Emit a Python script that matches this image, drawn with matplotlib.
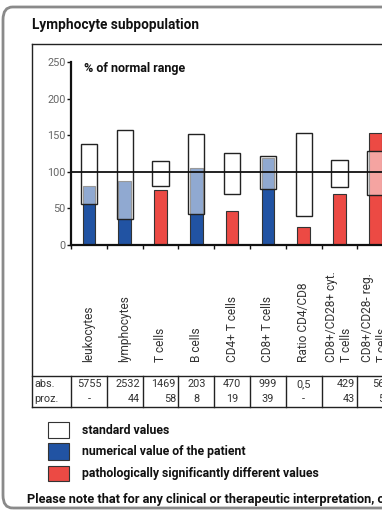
import matplotlib
matplotlib.use("Agg")
import matplotlib.pyplot as plt
from matplotlib.patches import Rectangle, FancyBboxPatch
from matplotlib.lines import Line2D

plt.rcParams['font.family'] = ['Roboto', 'DejaVu Sans']

# ---- data ----
categories = ['leukocytes', 'lymphocytes', 'T cells', 'B cells', 'CD4+ T cells',
              'CD8+ T cells', 'Ratio CD4/CD8', 'CD8+/CD28+ cyt.\nT cells',
              'CD8+/CD28- reg.\nT cells']
std_low = [56, 36, 80, 42, 70, 76, 40, 79, 68]
std_high = [138, 157, 115, 151, 125, 121, 153, 116, 128]
patient = [80, 88, 75, 105, 47, 119, 25, 70, 153]
pathological = [False, False, True, False, True, False, True, True, True]
abs_values = ['5755', '2532', '1469', '203', '470', '999', '0,5', '429', '569']
proz_values = ['-', '44', '58', '8', '19', '39', '-', '43', '57']
yticks = [0, 50, 100, 150, 200, 250]
legend_labels = ['standard values', 'numerical value of the patient',
                 'pathologically significantly different values']

BLUE = '#2153a3'
RED = '#ec4a44'
W, H = 382, 511

fig = plt.figure(figsize=(W / 100, H / 100), dpi=100)


def fx(x):
    return x / W


def fy(y):
    return 1 - y / H


# outer rounded border
fig.add_artist(FancyBboxPatch((fx(3), fy(508)), fx(420), fy(7) - fy(508),
                              boxstyle="round,pad=0,rounding_size=0.025",
                              transform=fig.transFigure, facecolor='none',
                              edgecolor='#8a8a8a', linewidth=2, clip_on=False))

fig.text(fx(32), fy(25), 'Lymphocyte subpopulation', fontsize=9.8, fontweight='bold',
         ha='left', va='center', color='#111')

# inner box lines
fig.add_artist(Line2D([fx(32), fx(32)], [fy(44), fy(407)], color='#222', lw=1))
fig.add_artist(Line2D([fx(32), fx(400)], [fy(44), fy(44)], color='#222', lw=1))

# main axes
col = 35.8
n = len(categories)
ax = fig.add_axes([fx(71), fy(245), (n * col) / W, (245 - 62) / H])
ax.set_xlim(0, n)
ax.set_ylim(0, 250)
for s in ['top', 'right']:
    ax.spines[s].set_visible(False)
for s in ['left', 'bottom']:
    ax.spines[s].set_linewidth(1.6)
    ax.spines[s].set_color('#111')
ax.set_yticks(yticks)
ax.set_yticklabels([str(t) for t in yticks], fontsize=7.8, color='#666')
ax.set_xticks(range(0, n + 1))
ax.set_xticklabels([])
ax.tick_params(axis='both', direction='out', length=3, width=1, color='#111', pad=1)
ax.patch.set_alpha(0)

for i in range(n):
    c = i + 0.5
    color = RED if pathological[i] else BLUE
    ax.bar(c, patient[i], width=0.35, color=color, edgecolor='#333', linewidth=0.8, zorder=2)
    ax.add_patch(Rectangle((c - 0.225, std_low[i]), 0.45, std_high[i] - std_low[i],
                           facecolor=(1, 1, 1, 0.5), edgecolor='#222', linewidth=1, zorder=3))
    ax.text(c, -0.64, categories[i], rotation=90, ha='center', va='bottom',
            multialignment='left', fontsize=8.6, color='#333',
            transform=ax.get_xaxis_transform(), clip_on=False)

ax.axhline(100, color='#111', lw=1.3, zorder=4)
ax.text((84 - 71) / col, 241, '% of normal range', fontsize=9, fontweight='bold',
        ha='left', va='center', color='#111')

# table
tax = fig.add_axes([fx(71), fy(407), (n * col) / W, 31 / H])
tax.set_xlim(0, n)
tax.set_ylim(0, 2)
tax.axis('off')
left_ext = -(71 - 32) / col
tax.plot([left_ext, n + 2], [2, 2], color='#222', lw=1, clip_on=False)
tax.plot([left_ext, n + 2], [0, 0], color='#222', lw=1, clip_on=False)
for b in range(0, n):
    tax.plot([b, b], [0, 2], color='#222', lw=1, clip_on=False)
tax.text(left_ext + 0.08, 1.5, 'abs.', fontsize=7.8, color='#333', ha='left', va='center')
tax.text(left_ext + 0.06, 0.5, 'proz.', fontsize=7.8, color='#333', ha='left', va='center')
align = ['center', 'right', 'right', 'center', 'center', 'center', 'center', 'right', 'right']
for i in range(n):
    if align[i] == 'right':
        x = i + 0.93
    else:
        x = i + 0.5
    tax.text(x, 1.5, abs_values[i], fontsize=7.8, color='#333', ha=align[i], va='center')
    tax.text(x, 0.5, proz_values[i], fontsize=7.8, color='#333', ha=align[i], va='center')

# legend
leg_colors = ['white', BLUE, RED]
leg_y = [(422, 438), (443, 460), (466, 481)]
for lab, colr, (y0, y1) in zip(legend_labels, leg_colors, leg_y):
    fig.add_artist(Rectangle((fx(48), fy(y1)), fx(69) - fx(48), fy(y0) - fy(y1),
                             transform=fig.transFigure, facecolor=colr,
                             edgecolor='#333', linewidth=0.8))
    fig.text(fx(82), fy((y0 + y1) / 2), lab, fontsize=8.8, fontweight='bold',
             ha='left', va='center', color='#111')

fig.text(fx(27), fy(499),
         'Please note that for any clinical or therapeutic interpretation, o',
         fontsize=9.2, fontweight='bold', ha='left', va='center', color='#111')

fig.savefig('out.png', dpi=100)
